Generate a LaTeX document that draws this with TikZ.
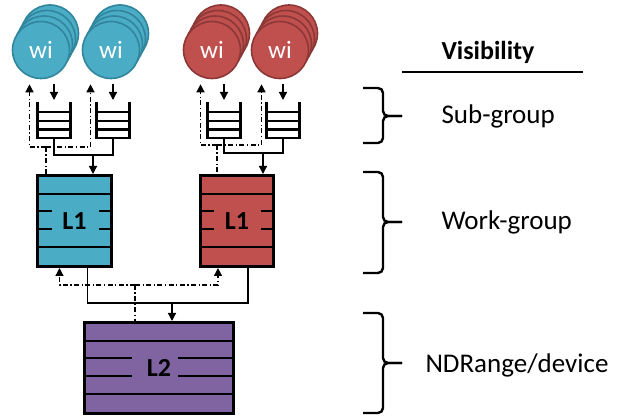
\documentclass[tikz,border=0pt]{standalone}
\usepackage{fontspec}
\setmainfont{Carlito}
\usetikzlibrary{arrows.meta, positioning, calc}

\definecolor{wiblue}{HTML}{4BACC6}
\definecolor{wiblueline}{HTML}{31859C}
\definecolor{wired}{HTML}{C0504D}
\definecolor{wiredline}{HTML}{8C3836}
\definecolor{l2purple}{HTML}{8064A2}

\begin{document}
\begin{tikzpicture}[
    x=1pt, y=-1pt,
    item/.style={circle, minimum size=57pt, inner sep=0pt, line width=1.6pt, text=white, font=\fontsize{25}{27}\selectfont},
    itemblue/.style={item, fill=wiblue, draw=wiblueline},
    itemred/.style={item, fill=wired, draw=wiredline},
    queue/.style={minimum width=33pt, minimum height=36pt, inner sep=0pt, outer sep=0pt},
    queuewall/.style={line width=2.4pt},
    cache/.style={rectangle, draw, line width=2.8pt, outer sep=0pt, inner sep=0pt, font=\bfseries\fontsize{26}{28}\selectfont},
    cacheline/.style={line width=1.9pt},
    arrow/.style={-{Triangle[length=8pt,width=8pt]}, line width=1.3pt},
    dasharrow/.style={arrow, dash pattern=on 5pt off 2.5pt on 1.2pt off 2.5pt},
    dashline/.style={line width=1.2pt, dash pattern=on 5pt off 2.5pt on 1.2pt off 2.5pt},
    wire/.style={line width=1.1pt},
    bracket/.style={line width=2.4pt, rounded corners=5pt},
    vislabel/.style={font=\fontsize{27}{30}\selectfont, anchor=west}
]
\useasboundingbox (0,0) rectangle (619,419);

% Work-items (stacked)
\foreach \wname/\cx/\wstyle in {wa/41/itemblue, wb/111/itemblue, wc/212/itemred, wd/280/itemred}{
  \foreach \k in {3,2,1}
    \node[\wstyle] at (\cx+3*\k, 50-5.5*\k) {};
  \node[\wstyle] (\wname) at (\cx,50) {wi};
}

% Sub-group queues
\node[queue] (qa) at (54,120) {};
\node[queue] (qb) at (113,120) {};
\node[queue] (qc) at (224,120) {};
\node[queue] (qd) at (283,120) {};
\foreach \q in {qa,qb,qc,qd}{
  \draw[queuewall] (\q.north west) |- (\q.south east) -- (\q.north east);
  \foreach \f in {0.28,0.52,0.76}
    \draw[queuewall] ($(\q.north west)!\f!(\q.south west)$) -- ($(\q.north east)!\f!(\q.south east)$);
}

% Caches
\node[cache, fill=wiblue, minimum width=74pt, minimum height=91pt] (la) at (74.5,221) {L1};
\node[cache, fill=wired, minimum width=73pt, minimum height=91pt] (lb) at (237,221) {L1};
\node[cache, fill=l2purple, minimum width=149pt, minimum height=91pt] (lc) at (159,368) {L2};
\foreach \c/\lgap/\rgap in {la/14/13, lb/13/13, lc/47/56}{
  \foreach \f in {0.2,0.79}
    \draw[cacheline] ($(\c.north west)!\f!(\c.south west)$) -- ($(\c.north east)!\f!(\c.south east)$);
  \foreach \f in {0.39,0.59}{
    \draw[cacheline] ($(\c.north west)!\f!(\c.south west)$) -- ++(\lgap,0);
    \draw[cacheline] ($(\c.north east)!\f!(\c.south east)$) -- ++(-\rgap,0);
  }
}

% Blue work-group
\coordinate (dja) at (46,147);
\coordinate (sja) at (93,155);
\draw[arrow] ($(wa.south -| qa.north)+(0,5)$) -- ($(qa.north)+(0,-2)$);
\draw[arrow] ($(wb.south -| qb.north)+(0,5)$) -- ($(qb.north)+(0,-2)$);
\draw[dasharrow] (dja) -| ($(wa.south -| qa.west)+(-8,5)$);
\draw[dasharrow] (dja) -| ($(wb.south -| qb.west)+(-6,5)$);
\draw[dashline] (dja) -- (dja |- la.north);
\draw[wire] (qa.south) |- (sja);
\draw[wire] (qb.south) |- (sja);
\draw[arrow] (sja) -- ($(sja |- la.north)+(0,-1.5)$);

% Red work-group
\coordinate (djb) at (217,145);
\coordinate (sjb) at (263,153);
\draw[arrow] ($(wc.south -| qc.north)+(0,5)$) -- ($(qc.north)+(0,-2)$);
\draw[arrow] ($(wd.south -| qd.north)+(0,5)$) -- ($(qd.north)+(0,-2)$);
\draw[dasharrow] (djb) -| ($(wc.south -| qc.west)+(-7,5)$);
\draw[dasharrow] (djb) -| ($(wd.south -| qd.west)+(-5,5)$);
\draw[dashline] (djb) -- (djb |- lb.north);
\draw[wire] (qc.south) |- (sjb);
\draw[wire] (qd.south) |- (sjb);
\draw[arrow] (sjb) -- ($(sjb |- lb.north)+(0,-1.5)$);

% L1 to L2
\coordinate (djl) at (135,285);
\coordinate (sjl) at (172,303);
\draw[dasharrow] (djl) -| ($(la.south)+(-15,1.5)$);
\draw[dasharrow] (djl) -| ($(lb.south)+(-19,1.5)$);
\draw[dashline] (djl) -- (djl |- lc.north);
\draw[wire] ($(la.south)+(13,0)$) |- (sjl);
\draw[wire] ($(lb.south)+(11,0)$) |- (sjl);
\draw[arrow] (sjl) -- ($(sjl |- lc.north)+(0,-1.5)$);

% Visibility column
\node[font=\bfseries\fontsize{26}{28}\selectfont] (vis) at (488,52) {Visibility};
\draw[line width=1.6pt] (402,72) -- (583,72);
\node[vislabel] (subg) at (438,116) {Sub-group};
\node[vislabel] (workg) at (438,222) {Work-group};
\node[vislabel] (ndr) at (422,365) {NDRange/device};

% Braces
\draw[bracket] (363,88) -| (383,116) -- (402,116);
\draw[bracket] (363,143) -| (383,116) -- (402,116);
\draw[bracket] (363,172) -| (383,222) -- (402,222);
\draw[bracket] (363,273) -| (383,222) -- (402,222);
\draw[bracket] (363,313) -| (383,363) -- (402,363);
\draw[bracket] (363,413) -| (383,363) -- (402,363);

\end{tikzpicture}
\end{document}
